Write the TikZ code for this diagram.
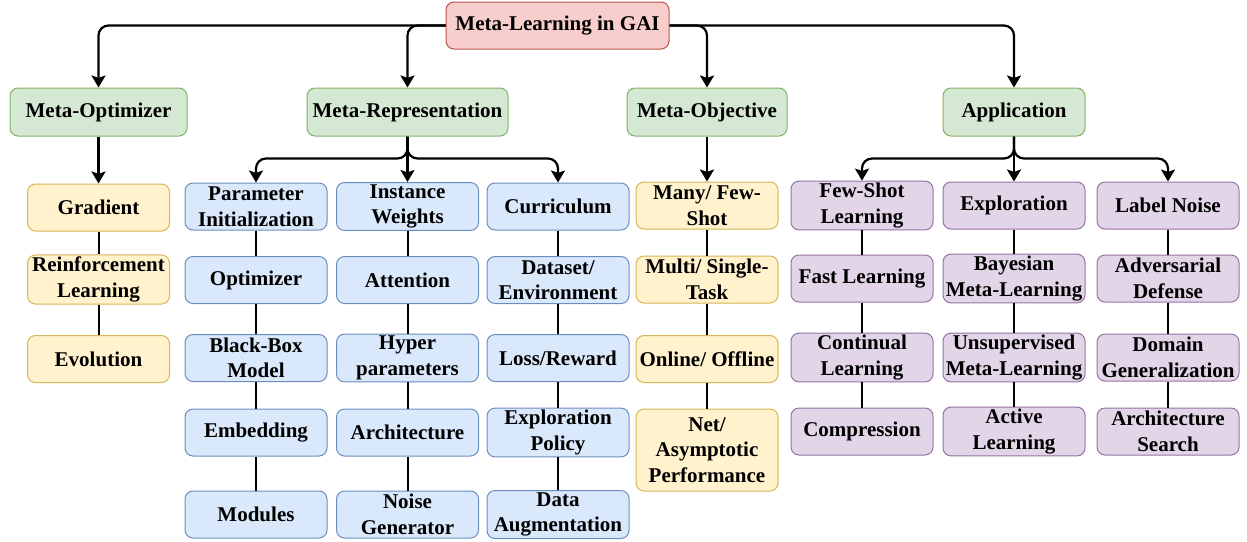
\documentclass[tikz,border=0pt]{standalone}
\usepackage{fontspec}
\setmainfont{Liberation Serif}[BoldFont={Liberation Serif Bold}]
\newfontfamily\boxfont{Liberation Serif Bold}
\usetikzlibrary{arrows.meta}

\definecolor{redfill}{HTML}{F8CECC}
\definecolor{redline}{HTML}{B85450}
\definecolor{greenfill}{HTML}{D5E8D4}
\definecolor{greenline}{HTML}{82B366}
\definecolor{yellowfill}{HTML}{FFF2CC}
\definecolor{yellowline}{HTML}{D6B656}
\definecolor{bluefill}{HTML}{DAE8FC}
\definecolor{blueline}{HTML}{6C8EBF}
\definecolor{purplefill}{HTML}{E1D5E7}
\definecolor{purpleline}{HTML}{9673A6}

\tikzset{
  box/.style={draw, rounded corners=4pt, line width=0.5pt, align=center,
    minimum width=71pt, minimum height=23.5pt, inner sep=1pt,
    font=\boxfont\fontsize{10.5}{12.8}\selectfont},
  rootbox/.style={box, fill=redfill, draw=redline, minimum width=111.5pt},
  catbox/.style={box, fill=greenfill, draw=greenline, minimum height=24pt},
  yelbox/.style={box, fill=yellowfill, draw=yellowline},
  bluebox/.style={box, fill=bluefill, draw=blueline},
  purbox/.style={box, fill=purplefill, draw=purpleline},
  arr/.style={-{Stealth[length=6pt, width=7pt, inset=1.2pt]}, line width=1.1pt, rounded corners=5pt},
  link/.style={line width=1pt}
}

\begin{document}
\begin{tikzpicture}[x=0.5pt, y=-0.5pt]
\useasboundingbox (0,0) rectangle (1247,541);

\draw (557.5,25.5) node (root) [rootbox] {Meta-Learning in GAI};

\draw (98.5,112)  node (opt) [catbox, minimum width=88.5pt]  {Meta-Optimizer};
\draw (407.5,112) node (rep) [catbox, minimum width=100.5pt] {Meta-Representation};
\draw (707,112)   node (obj) [catbox, minimum width=80pt]    {Meta-Objective};
\draw (1014,112)  node (app) [catbox, minimum width=71pt]    {Application};

\draw[arr] (root.west) -| (opt.north);
\draw[arr] (root.west) -| (rep.north);
\draw[arr] (root.east) -| (obj.north);
\draw[arr] (root.east) -| (app.north);

% meta-optimizer
\draw (98.5,207.5) node (opt1) [yelbox] {Gradient};
\draw (98.5,279.5) node (opt2) [yelbox] {Reinforcement\\Learning};
\draw (98.5,359)   node (opt3) [yelbox] {Evolution};
\draw[arr] (opt) -- (opt1);
\draw[link] (opt1) -- (opt2);
\draw[link] (opt2) -- (opt3);

% meta-representation
\draw (256,206.5) node (rep11) [bluebox] {Parameter\\Initialization};
\draw (256,280)   node (rep12) [bluebox] {Optimizer};
\draw (256,358)   node (rep13) [bluebox] {Black-Box\\Model};
\draw (256,432.5) node (rep14) [bluebox] {Embedding};
\draw (256,514.5) node (rep15) [bluebox] {Modules};
\draw[link] (rep11) -- (rep12);
\draw[link] (rep12) -- (rep13);
\draw[link] (rep13) -- (rep14);
\draw[link] (rep14) -- (rep15);

\draw (407.5,206.5) node (rep21) [bluebox] {Instance\\Weights};
\draw (407.5,280)   node (rep22) [bluebox] {Attention};
\draw (407.5,358)   node (rep23) [bluebox] {Hyper\\parameters};
\draw (407.5,432.5) node (rep24) [bluebox] {Architecture};
\draw (407.5,514.5) node (rep25) [bluebox] {Noise\\Generator};
\draw[link] (rep21) -- (rep22);
\draw[link] (rep22) -- (rep23);
\draw[link] (rep23) -- (rep24);
\draw[link] (rep24) -- (rep25);

\draw (558,206.5) node (rep31) [bluebox] {Curriculum};
\draw (558,280)   node (rep32) [bluebox] {Dataset/\\Environment};
\draw (558,358)   node (rep33) [bluebox] {Loss/Reward};
\draw (558,432.5) node (rep34) [bluebox] {Exploration\\Policy};
\draw (558,514.5) node (rep35) [bluebox] {Data\\Augmentation};
\draw[link] (rep31) -- (rep32);
\draw[link] (rep32) -- (rep33);
\draw[link] (rep33) -- (rep34);
\draw[link] (rep34) -- (rep35);

\draw[arr] (rep.south) -- ++(0,22) -| (rep11.north);
\draw[arr] (rep.south) -- (rep21.north);
\draw[arr] (rep.south) -- ++(0,22) -| (rep31.north);

% meta-objective
\draw (707,205.5) node (obj1) [yelbox] {Many/ Few-\\Shot};
\draw (707,279.5) node (obj2) [yelbox] {Multi/ Single-\\Task};
\draw (707,359)   node (obj3) [yelbox] {Online/ Offline};
\draw (707,450)   node (obj4) [yelbox, minimum height=41pt] {Net/\\Asymptotic\\Performance};
\draw[arr] (obj) -- (obj1);
\draw[link] (obj1) -- (obj2);
\draw[link] (obj2) -- (obj3);
\draw[link] (obj3) -- (obj4);

% application
\draw (862,205.5) node (app11) [purbox] {Few-Shot\\Learning};
\draw (862,278.5) node (app12) [purbox] {Fast Learning};
\draw (862,357.5) node (app13) [purbox] {Continual\\Learning};
\draw (862,431.5) node (app14) [purbox] {Compression};
\draw[link] (app11) -- (app12);
\draw[link] (app12) -- (app13);
\draw[link] (app13) -- (app14);

\draw (1014,205.5) node (app21) [purbox] {Exploration};
\draw (1014,278.5) node (app22) [purbox] {Bayesian\\Meta-Learning};
\draw (1014,357.5) node (app23) [purbox] {Unsupervised\\Meta-Learning};
\draw (1014,431.5) node (app24) [purbox] {Active\\Learning};
\draw[link] (app21) -- (app22);
\draw[link] (app22) -- (app23);
\draw[link] (app23) -- (app24);

\draw (1168,205.5) node (app31) [purbox] {Label Noise};
\draw (1168,278.5) node (app32) [purbox] {Adversarial\\Defense};
\draw (1168,357.5) node (app33) [purbox] {Domain\\Generalization};
\draw (1168,431.5) node (app34) [purbox] {Architecture\\Search};
\draw[link] (app31) -- (app32);
\draw[link] (app32) -- (app33);
\draw[link] (app33) -- (app34);

\draw[arr] (app.south) -- ++(0,22) -| (app11.north);
\draw[arr] (app.south) -- (app21.north);
\draw[arr] (app.south) -- ++(0,22) -| (app31.north);

\end{tikzpicture}
\end{document}
